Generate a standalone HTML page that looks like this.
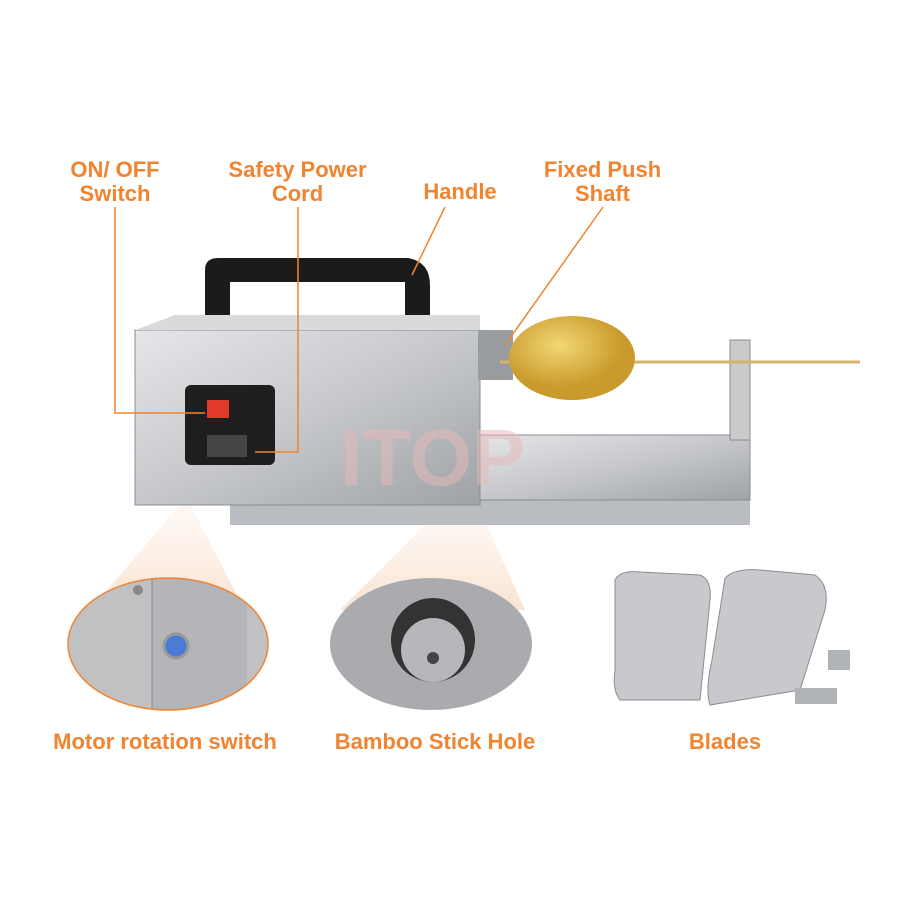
<!DOCTYPE html>
<html><head><style>
body{margin:0;background:#fff;width:900px;height:900px;overflow:hidden;position:relative;font-family:"Liberation Sans",sans-serif}
.l{position:absolute;color:#f2832f;font-weight:bold;font-size:22px;text-align:center;line-height:24px}
</style></head><body>
<svg width="900" height="900" style="position:absolute;left:0;top:0">
<defs>
<linearGradient id="m" x1="0" y1="0" x2="1" y2="1"><stop offset="0" stop-color="#e4e6e8"/><stop offset="0.5" stop-color="#c6c8cb"/><stop offset="1" stop-color="#9fa2a6"/></linearGradient>
<linearGradient id="c" x1="0" y1="0" x2="0" y2="1"><stop offset="0" stop-color="#fbe9dc" stop-opacity="0.3"/><stop offset="1" stop-color="#f8dcc6" stop-opacity="0.8"/></linearGradient>
<radialGradient id="p" cx="0.4" cy="0.35"><stop offset="0" stop-color="#f2d774"/><stop offset="1" stop-color="#c99a2c"/></radialGradient>
<clipPath id="e1"><ellipse cx="168" cy="644" rx="100" ry="66"/></clipPath>
<clipPath id="e2"><ellipse cx="431" cy="644" rx="101" ry="66"/></clipPath>
</defs>
<polygon points="180,505 190,505 245,610 90,610" fill="url(#c)"/>
<polygon points="440,510 480,510 525,610 340,610" fill="url(#c)"/>
<rect x="230" y="500" width="520" height="25" fill="#b9bcc0"/>
<rect x="470" y="435" width="280" height="65" fill="url(#m)" stroke="#8a8d90"/>
<rect x="730" y="340" width="20" height="100" fill="#c8cacc" stroke="#8a8d90"/>
<path d="M205,335 V270 Q205,258 218,258 H408 Q430,262 430,285 V335 H405 V282 H230 V335Z" fill="#1b1b1b"/>
<rect x="135" y="330" width="345" height="175" fill="url(#m)" stroke="#8a8d90"/>
<polygon points="135,330 175,315 480,315 480,330" fill="#d8dadc"/>
<rect x="185" y="385" width="90" height="80" rx="6" fill="#1e1e1e"/>
<rect x="207" y="400" width="22" height="18" fill="#e23a2a"/>
<rect x="207" y="435" width="40" height="22" fill="#444"/>
<rect x="478" y="330" width="35" height="50" fill="#9a9da0"/>
<line x1="500" y1="362" x2="860" y2="362" stroke="#d9b26a" stroke-width="3"/>
<ellipse cx="572" cy="358" rx="63" ry="42" fill="url(#p)"/>
<text x="340" y="485" font-size="80" font-weight="bold" fill="#e9b9b9" opacity="0.5" font-family="Liberation Sans">ITOP</text>
<g fill="none" stroke="#f2832f" stroke-width="1.5">
<polyline points="115,207 115,413 205,413"/>
<polyline points="298,207 298,452 255,452"/>
<line x1="445" y1="207" x2="412" y2="275"/>
<line x1="603" y1="207" x2="505" y2="345"/>
</g>
<g clip-path="url(#e1)">
<rect x="60" y="570" width="220" height="150" fill="#bfc1c3"/>
<rect x="152" y="570" width="95" height="150" fill="#b3b5b8"/>
<line x1="152" y1="570" x2="152" y2="720" stroke="#888"/>
<circle cx="176" cy="646" r="12" fill="#4a7bd6" stroke="#999" stroke-width="3"/>
<circle cx="138" cy="590" r="5" fill="#888"/>
</g>
<ellipse cx="168" cy="644" rx="100" ry="66" fill="none" stroke="#f2832f" stroke-width="1.5"/>
<g clip-path="url(#e2)">
<rect x="325" y="570" width="215" height="150" fill="#a9abae"/>
<circle cx="433" cy="640" r="42" fill="#333"/>
<circle cx="433" cy="650" r="32" fill="#b5b7ba"/>
<circle cx="433" cy="658" r="6" fill="#444"/>
</g>
<path d="M615,580 Q620,570 640,572 L700,575 Q712,580 710,600 L700,700 L620,700 Q612,690 615,670Z" fill="#c7c9cc" stroke="#8a8d90"/>
<path d="M725,578 Q735,568 760,570 L815,575 Q830,585 825,610 L800,690 L710,705 Q705,690 712,660Z" fill="#c7c9cc" stroke="#8a8d90"/>
<rect x="795" y="688" width="42" height="16" fill="#b0b3b6"/>
<rect x="828" y="650" width="22" height="20" fill="#b0b3b6"/>
</svg>
<div class="l" style="left:55px;top:158px;width:120px">ON/ OFF<br>Switch</div>
<div class="l" style="left:215px;top:158px;width:165px">Safety Power<br>Cord</div>
<div class="l" style="left:405px;top:180px;width:110px">Handle</div>
<div class="l" style="left:535px;top:158px;width:135px">Fixed Push<br>Shaft</div>
<div class="l" style="left:25px;top:730px;width:280px">Motor rotation switch</div>
<div class="l" style="left:320px;top:730px;width:230px">Bamboo Stick Hole</div>
<div class="l" style="left:670px;top:730px;width:110px">Blades</div>
</body></html>
